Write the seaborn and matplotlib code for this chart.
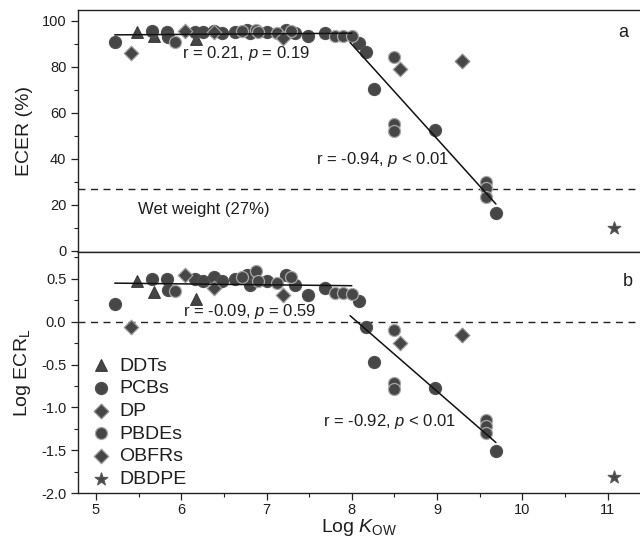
import numpy as np
import pandas as pd
import matplotlib
matplotlib.use('Agg')
import matplotlib.pyplot as plt
import seaborn as sns

# values
ddt_kow = [5.48, 5.68, 6.17]
ddt_ecer = [95.0, 93.5, 92.0]
ddt_logecr = [0.47, 0.35, 0.26]

pcb_kow = [5.22, 5.66, 5.83, 5.84, 6.16, 6.26, 6.38, 6.48, 6.63, 6.77, 6.81,
           7.00, 7.23, 7.33, 7.49, 7.69, 8.08, 8.17, 8.26, 8.97, 9.69]
pcb_ecer = [91.0, 95.4, 95.0, 93.0, 95.0, 95.0, 95.5, 94.8, 95.0, 96.0, 94.5,
            95.0, 96.0, 94.5, 93.5, 94.6, 90.5, 86.5, 70.3, 52.6, 16.7]
pcb_logecr = [0.21, 0.50, 0.50, 0.37, 0.50, 0.48, 0.52, 0.48, 0.50, 0.55, 0.43,
              0.48, 0.54, 0.43, 0.31, 0.39, 0.24, -0.06, -0.47, -0.77, -1.51]

dp_kow = [9.29]
dp_ecer = [82.7]
dp_logecr = [-0.16]

pbde_kow = [5.93, 6.71, 6.88, 6.90, 7.12, 7.29, 7.80, 7.90, 8.00,
            8.49, 8.49, 8.49, 9.57, 9.57, 9.57]
pbde_ecer = [91.0, 95.5, 96.0, 95.0, 94.5, 95.5, 93.5, 93.5, 93.5,
             84.2, 55.2, 52.3, 30.1, 27.2, 23.6]
pbde_logecr = [0.36, 0.52, 0.59, 0.47, 0.45, 0.52, 0.33, 0.33, 0.32,
               -0.10, -0.71, -0.79, -1.15, -1.22, -1.30]

obfr_kow = [5.41, 6.04, 6.38, 7.19, 8.56]
obfr_ecer = [86.0, 95.6, 95.0, 92.5, 79.0]
obfr_logecr = [-0.06, 0.54, 0.39, 0.31, -0.25]

dbdpe_kow = [11.08]
dbdpe_ecer = [9.9]
dbdpe_logecr = [-1.81]

# fitted lines (end points as drawn)
flat_kow = [5.22, 8.00]
flat_ecer = [93.9, 94.6]
flat_logecr = [0.45, 0.42]
steep_kow = [7.98, 9.69]
steep_ecer = [90.6, 20.4]
steep_logecr = [0.07, -1.41]

wet_weight = 27

groups = [
    ('DDTs', ddt_kow, ddt_ecer, ddt_logecr, '^', 70, '#3c3c3c'),
    ('PCBs', pcb_kow, pcb_ecer, pcb_logecr, 'o', 75, '#505050'),
    ('DP', dp_kow, dp_ecer, dp_logecr, 'D', 55, '#8a8a8a'),
    ('PBDEs', pbde_kow, pbde_ecer, pbde_logecr, 'o', 75, '#a8a8a8'),
    ('OBFRs', obfr_kow, obfr_ecer, obfr_logecr, 'D', 55, '#a0a0a0'),
    ('DBDPE', dbdpe_kow, dbdpe_ecer, dbdpe_logecr, '*', 90, '#5a5a5a'),
]

sns.set_style('ticks')
plt.rcParams['font.family'] = ['Liberation Sans', 'DejaVu Sans']
plt.rcParams['mathtext.fontset'] = 'custom'
plt.rcParams['mathtext.rm'] = 'Liberation Sans'
plt.rcParams['mathtext.it'] = 'Liberation Sans:italic'
txt = '#1e1e1e'
fill = '#464646'

fig = plt.figure(figsize=(6.4, 5.43), dpi=100)
ax1 = fig.add_axes([0.122, 0.536, 0.878, 0.446])
ax2 = fig.add_axes([0.122, 0.092, 0.878, 0.444], sharex=ax1)

for name, kx, ec, lg, mk, s, edge in groups:
    sns.scatterplot(x=kx, y=ec, marker=mk, s=s, color=fill, edgecolor=edge,
                    linewidth=0.9, ax=ax1, legend=False, zorder=3)
    sns.scatterplot(x=kx, y=lg, marker=mk, s=s, color=fill, edgecolor=edge,
                    linewidth=0.9, ax=ax2, label=name, zorder=3)

sns.lineplot(x=flat_kow, y=flat_ecer, color='#111111', lw=1.1, ax=ax1, zorder=4)
sns.lineplot(x=steep_kow, y=steep_ecer, color='#111111', lw=1.1, ax=ax1, zorder=4)
sns.lineplot(x=flat_kow, y=flat_logecr, color='#111111', lw=1.1, ax=ax2, zorder=4)
sns.lineplot(x=steep_kow, y=steep_logecr, color='#111111', lw=1.1, ax=ax2, zorder=4)

ax1.axhline(wet_weight, color='#222222', lw=1.0, ls=(0, (5, 4)), zorder=1)
ax2.axhline(0, color='#222222', lw=1.0, ls=(0, (5, 4)), zorder=1)

ax1.set_xlim(4.79, 11.38)
ax1.set_ylim(-0.43, 104.8)
ax2.set_ylim(-2.0, 0.814)

ax1.set_yticks([0, 20, 40, 60, 80, 100])
ax1.set_yticks(np.arange(0, 101, 10), minor=True)
ax2.set_yticks([-2.0, -1.5, -1.0, -0.5, 0.0, 0.5])
ax2.set_yticklabels(['-2.0', '-1.5', '-1.0', '-0.5', '0.0', '0.5'])
ax2.set_yticks(np.arange(-2.0, 0.76, 0.25), minor=True)
ax2.set_xticks([5, 6, 7, 8, 9, 10, 11])
ax2.set_xticks(np.arange(5, 11.5, 0.5), minor=True)

for ax in (ax1, ax2):
    ax.spines['right'].set_visible(False)
    for sp in ax.spines.values():
        sp.set_linewidth(1.0)
        sp.set_color('#222222')
    ax.tick_params(which='major', direction='out', length=5, width=0.9,
                   color='#222222', labelsize=10.5, labelcolor=txt, pad=3.5)
    ax.tick_params(which='minor', direction='out', length=3, width=0.8,
                   color='#222222')
ax1.tick_params(axis='x', which='both', bottom=False, labelbottom=False)
ax2.tick_params(axis='x', which='both', top=False)
ax2.tick_params(axis='x', which='major', pad=2.5)

ax1.set_ylabel('ECER (%)', fontsize=14, color=txt)
ax2.set_ylabel('Log ECR$_\\mathregular{L}$', fontsize=14, color=txt)
ax2.set_xlabel('Log $\\mathit{K}_\\mathregular{OW}$', fontsize=14, color=txt, labelpad=0)
ax1.yaxis.set_label_coords(-0.08, 0.5)
ax2.yaxis.set_label_coords(-0.08, 0.5)

ax1.text(6.01, 85.7, 'r = 0.21, $\\mathit{p}$ = 0.19', fontsize=12, color=txt, va='center')
ax1.text(7.58, 39.6, 'r = -0.94, $\\mathit{p}$ < 0.01', fontsize=12, color=txt, va='center')
ax1.text(5.49, 17.8, 'Wet weight (27%)', fontsize=12, color=txt, va='center')
ax1.text(0.97, 0.905, 'a', fontsize=13, color=txt, ha='center', va='center',
         transform=ax1.transAxes)
ax2.text(6.02, 0.12, 'r = -0.09, $\\mathit{p}$ = 0.59', fontsize=12, color=txt, va='center')
ax2.text(7.66, -1.17, 'r = -0.92, $\\mathit{p}$ < 0.01', fontsize=12, color=txt, va='center')
ax2.text(0.979, 0.876, 'b', fontsize=13, color=txt, ha='center', va='center',
         transform=ax2.transAxes)

leg = ax2.legend(loc='upper left', bbox_to_anchor=(0.0, 0.613), frameon=False,
                 fontsize=14, handletextpad=0.3, labelspacing=0.26,
                 borderaxespad=0.2, handlelength=1.2)
for t in leg.get_texts():
    t.set_color(txt)

fig.savefig('out.png', dpi=100)
